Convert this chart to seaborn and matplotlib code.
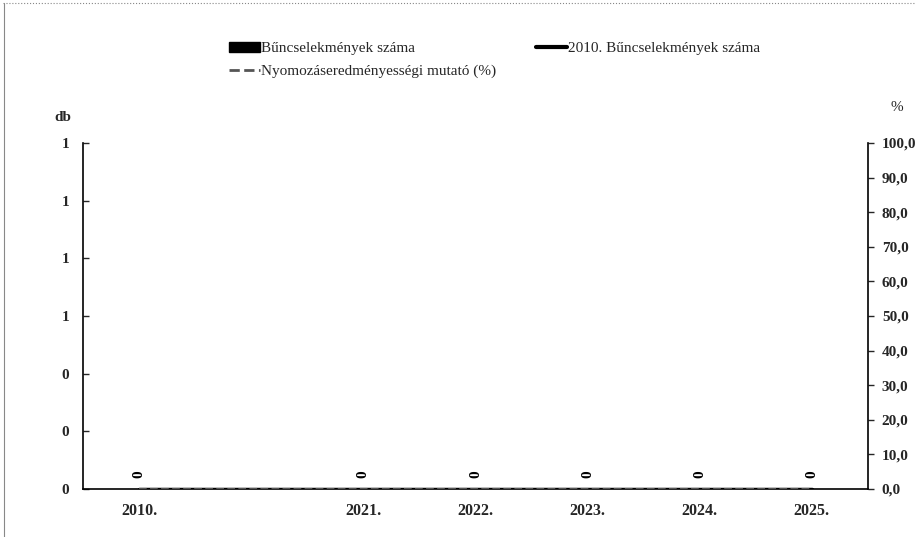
import matplotlib

matplotlib.use("Agg")
import matplotlib.pyplot as plt
import pandas as pd
import seaborn as sns
from matplotlib.lines import Line2D
from matplotlib.patches import Patch
from matplotlib.ticker import FixedLocator, FuncFormatter

# Adatok
years = ["2010.", " ", "2021.", "2022.", "2023.", "2024.", "2025."]
crimes = [0, None, 0, 0, 0, 0, 0]
crimes_2010 = [0, 0, 0, 0, 0, 0, 0]
clearance_rate = [0, None, 0, 0, 0, 0, 0]
bar_labels = ["0", "", "0", "0", "0", "0", "0"]
left_ticks = [0, 0.2, 0.4, 0.6, 0.8, 1.0, 1.2]
right_ticks = [0, 10, 20, 30, 40, 50, 60, 70, 80, 90, 100]

sns.set_theme(style="white")
plt.rcParams["font.family"] = ["Liberation Serif", "DejaVu Serif"]

df = pd.DataFrame({
    "ev": years,
    "bun": [c if c is not None else 0 for c in crimes],
    "bun2010": crimes_2010,
    "mutato": clearance_rate,
})
df["pos"] = range(len(df))

fig = plt.figure(figsize=(9.17, 5.37), dpi=100)
ax = fig.add_axes([0.0905, 0.0894, 0.856, 0.6443])

sns.barplot(data=df, x="ev", y="bun", color="black", width=0.6, ax=ax)
ax.bar_label(ax.containers[0], labels=bar_labels, padding=8, rotation=90,
             fontsize=11, fontweight="bold", color="black")
sns.lineplot(data=df, x="pos", y="bun2010", color="black", linewidth=2.5, ax=ax)

ax2 = ax.twinx()
sns.lineplot(data=df.dropna(), x="pos", y="mutato", color="#555555", linewidth=1.5,
             linestyle="--", ax=ax2)

ax.set_xlim(-0.5, len(years) - 0.5)
ax.set_ylim(0, 1.2)
ax2.set_ylim(0, 100)
ax.yaxis.set_major_locator(FixedLocator(left_ticks))
ax.yaxis.set_major_formatter(FuncFormatter(lambda v, p: f"{v:.0f}"))
ax2.yaxis.set_major_locator(FixedLocator(right_ticks))
ax2.yaxis.set_major_formatter(FuncFormatter(lambda v, p: f"{v:.1f}".replace(".", ",")))

ax.set_xlabel("")
ax.set_ylabel("")
ax2.set_ylabel("")
ax.set_xticks(range(len(years)))
ax.set_xticklabels(years, fontsize=11.5, fontweight="bold")
ax.tick_params(axis="x", length=0, pad=10)
ax.tick_params(axis="y", direction="in", length=4, width=1, labelsize=11, pad=10, left=True)
ax2.tick_params(axis="y", direction="out", length=4, width=1, labelsize=11, pad=6, right=True)
for lbl in ax.get_yticklabels() + ax2.get_yticklabels():
    lbl.set_fontweight("bold")

for a in (ax, ax2):
    a.spines["top"].set_visible(False)
    for s in ("left", "right", "bottom"):
        a.spines[s].set_color("black")
        a.spines[s].set_linewidth(1.2)
ax.spines["right"].set_visible(False)
ax2.spines["left"].set_visible(False)
ax2.spines["bottom"].set_visible(False)

fig.text(0.0687, 0.782, "db", fontsize=11, fontweight="bold", ha="center", va="center")
fig.text(0.978, 0.799, "%", fontsize=11, ha="center", va="center")

handles = [
    Patch(facecolor="black", edgecolor="black", label="Bűncselekmények száma"),
    Line2D([], [], color="#555555", linestyle="--", linewidth=2, label="Nyomozáseredményességi mutató (%)"),
    Line2D([], [], color="black", linewidth=3, label="2010. Bűncselekmények száma"),
]
fig.legend(handles=handles, ncol=2, loc="upper left", bbox_to_anchor=(0.235, 0.948),
           frameon=False, fontsize=11, handlelength=2.0, handletextpad=0.1,
           columnspacing=2.6, labelspacing=0.6)

# keret a beolvasott kép szélén
fig.add_artist(Line2D([0.003, 0.997], [0.994, 0.994], color="#888888", linewidth=0.8,
                      linestyle=":", transform=fig.transFigure))
fig.add_artist(Line2D([0.004, 0.004], [0.0, 0.994], color="#888888", linewidth=0.8,
                      transform=fig.transFigure))

fig.savefig("out.png", dpi=100)
